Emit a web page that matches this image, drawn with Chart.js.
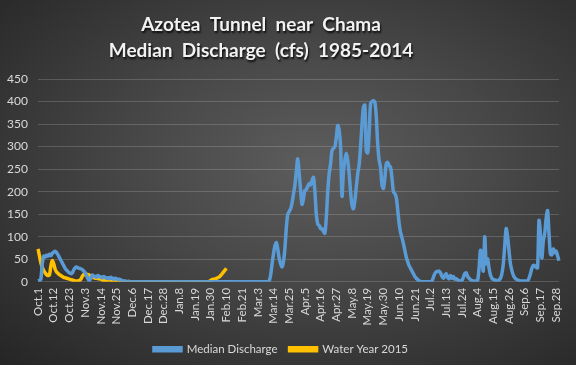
<!DOCTYPE html>
<html>
<head>
<meta charset="utf-8">
<script src="https://cdn.jsdelivr.net/npm/chart.js@4"></script>
<style>
  html, body { margin: 0; padding: 0; }
  #wrap {
    width: 576px;
    height: 365px;
    background: radial-gradient(ellipse at 55% 45%, #5d5d5d 0%, #484848 40%, #252525 100%);
  }
</style>
</head>
<body>
<div id="wrap"><canvas id="myChart" width="576" height="365"></canvas></div>
<script>
// ********** data ************
const titleLines = ["Azotea  Tunnel  near  Chama", "Median  Discharge  (cfs)  1985-2014"];
const monthNames = ["Oct", "Nov", "Dec", "Jan", "Feb", "Mar", "Apr", "May", "Jun", "Jul", "Aug", "Sep"];
const monthDays = [31, 30, 31, 31, 29, 31, 30, 31, 30, 31, 31, 30];
const yTicks = [0, 50, 100, 150, 200, 250, 300, 350, 400, 450];

// median discharge, one value per day (cfs)
const medOct = [2, 3, 6, 40, 57, 55, 59, 57, 61, 58, 63, 66, 68, 65, 60, 54, 48, 42, 36, 30, 26, 23, 20, 18, 20, 26, 31, 33, 31, 30, 29];
const medNov = [27, 24, 20, 14, 7, 3, 8, 15, 13, 12, 10, 14, 12, 11, 9, 12, 10, 8, 9, 7, 10, 8, 6, 8, 7, 5, 6, 4, 3, 2];
const medDec = [2, 1, 1, 1, 0, 0, 0, 0, 0, 0, 0, 0, 0, 0, 0, 0, 0, 0, 0, 0, 0, 0, 0, 0, 0, 0, 0, 0, 0, 0, 0];
const medJan = [0, 0, 0, 0, 0, 0, 0, 0, 0, 0, 0, 0, 0, 0, 0, 0, 0, 0, 0, 0, 0, 0, 0, 0, 0, 0, 0, 0, 0, 0, 0];
const medFeb = [0, 0, 0, 0, 0, 0, 0, 0, 0, 0, 0, 0, 0, 0, 0, 0, 0, 0, 0, 0, 0, 0, 0, 0, 0, 0, 0, 0, 0];
const medMar = [0, 0, 0, 0, 0, 0, 0, 0, 0, 0, 2, 15, 40, 62, 80, 87, 72, 52, 40, 33, 45, 75, 120, 150, 156, 162, 175, 195, 215, 245, 273];
const medApr = [240, 203, 172, 185, 203, 205, 212, 218, 215, 225, 232, 200, 150, 128, 125, 118, 118, 112, 108, 143, 200, 240, 262, 292, 296, 300, 320, 347, 336, 300];
const medMay = [190, 245, 270, 285, 270, 240, 200, 170, 162, 180, 210, 240, 260, 300, 350, 388, 392, 290, 286, 330, 396, 400, 402, 399, 366, 305, 270, 254, 215, 207, 230];
const medJun = [262, 265, 258, 254, 230, 200, 196, 187, 160, 130, 110, 98, 85, 70, 55, 45, 36, 30, 24, 18, 12, 8, 5, 2, 1, 0, 0, 0, 0, 0];
const medJul = [0, 0, 2, 10, 18, 22, 23, 24, 20, 12, 8, 14, 18, 10, 7, 14, 8, 12, 6, 7, 4, 3, 2, 3, 10, 18, 20, 12, 8, 5, 3];
const medAug = [2, 2, 2, 3, 30, 70, 47, 24, 100, 40, 51, 30, 15, 8, 5, 4, 3, 3, 4, 8, 18, 40, 80, 118, 100, 69, 40, 25, 15, 9, 6];
const medSep = [4, 3, 2, 2, 2, 2, 2, 2, 8, 18, 30, 36, 36, 32, 31, 136, 107, 53, 90, 107, 140, 158, 107, 62, 60, 73, 65, 68, 58, 47];

// water year 2015, daily values up to Feb.10
const wyOct = [73, 58, 42, 32, 25, 20, 16, 14, 15, 35, 47, 40, 28, 22, 19, 16, 14, 12, 10, 9, 8, 7, 6, 5, 4, 3, 2, 2, 2, 3, 6];
const wyNov = [12, 16, 18, 17, 16, 15, 13, 11, 9, 8, 8, 7, 7, 6, 4, 3, 2, 1, 0, 0, 0, 0, 0, 0, 0, 0, 0, 0, 0, 0];
const wyDec = [0, 0, 0, 0, 0, 0, 0, 0, 0, 0, 0, 0, 0, 0, 0, 0, 0, 0, 0, 0, 0, 0, 0, 0, 0, 0, 0, 0, 0, 0, 0];
const wyJan = [0, 0, 0, 0, 0, 0, 0, 0, 0, 0, 0, 0, 0, 0, 0, 0, 0, 0, 0, 0, 0, 0, 0, 0, 0, 0, 0, 0, 1, 3, 5];
const wyFeb = [6, 6, 8, 9, 11, 14, 18, 22, 26, 30];

// ********** build labels ************
const labels = [];
monthNames.forEach((m, i) => {
  for (let d = 1; d <= monthDays[i]; d++) {
    labels.push(m + "." + d);
  }
});

const medianData = [].concat(medOct, medNov, medDec, medJan, medFeb, medMar, medApr, medMay, medJun, medJul, medAug, medSep);
const wyData = [].concat(wyOct, wyNov, wyDec, wyJan, wyFeb);

// ********** title with shadow ************
const titlePlugin = {
  id: "shadowTitle",
  afterDraw(chart) {
    const c = chart.ctx;
    c.save();
    c.font = "bold 19px Lato, sans-serif";
    c.fillStyle = "#f2f2f2";
    c.textAlign = "center";
    c.textBaseline = "alphabetic";
    c.shadowColor = "rgba(0,0,0,0.85)";
    c.shadowOffsetX = 1;
    c.shadowOffsetY = 1.5;
    c.shadowBlur = 2;
    c.fillText(titleLines[0], 261, 31);
    c.fillText(titleLines[1], 261, 57);
    c.restore();
  },
};

Chart.defaults.font.family = "Lato, sans-serif";
Chart.defaults.color = "#d9d9d9";

const ctx = document.getElementById("myChart");
const myChart = new Chart(ctx, {
  type: "line",
  data: {
    labels: labels,
    datasets: [
      {
        label: "Median Discharge",
        data: medianData,
        borderColor: "#5b9bd5",
        backgroundColor: "#5b9bd5",
        borderWidth: 3.5,
        pointRadius: 0,
        tension: 0.3,
      },
      {
        label: "Water Year 2015",
        data: wyData,
        borderColor: "#ffc000",
        backgroundColor: "#ffc000",
        borderWidth: 3.5,
        pointRadius: 0,
        tension: 0.3,
      },
    ],
  },
  options: {
    responsive: false,
    animation: false,
    layout: { padding: { top: 79, right: 14, left: 0, bottom: 0 } },
    plugins: {
      title: { display: false },
      tooltip: { enabled: false },
      legend: {
        position: "bottom",
        labels: {
          boxWidth: 27,
          boxHeight: 3,
          padding: 12,
          color: "#d9d9d9",
          font: { size: 11.5 },
        },
      },
    },
    scales: {
      x: {
        grid: { display: false, drawTicks: false },
        border: { display: false },
        ticks: {
          autoSkip: false,
          minRotation: 90,
          maxRotation: 90,
          padding: 6,
          font: { size: 11.5 },
          color: "#d9d9d9",
          callback: function (value, index) {
            return index % 11 === 0 ? labels[index] : null;
          },
        },
      },
      y: {
        min: 0,
        max: 450,
        afterBuildTicks: (scale) => {
          scale.ticks = yTicks.map((v) => ({ value: v }));
        },
        grid: { color: "rgba(255,255,255,0.17)", drawTicks: false },
        border: { display: false },
        ticks: { padding: 10, font: { size: 12 }, color: "#d9d9d9" },
        afterFit: (scale) => {
          scale.width = 38;
        },
      },
    },
  },
  plugins: [titlePlugin],
});
</script>
</body>
</html>
